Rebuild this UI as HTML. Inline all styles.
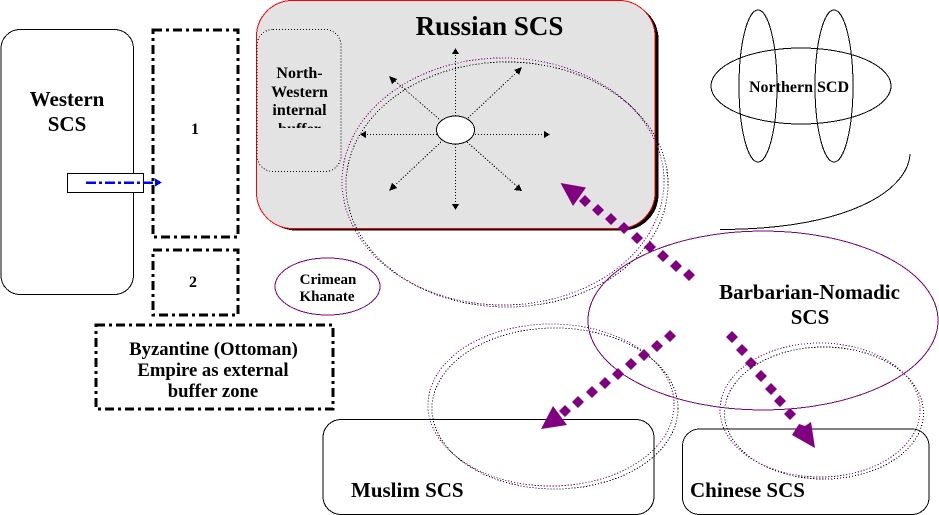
<!DOCTYPE html>
<html>
<head>
<meta charset="utf-8">
<style>
html,body{margin:0;padding:0;background:#fff;}
svg{display:block;position:absolute;left:0;top:0;}
text{font-family:"Liberation Serif",serif;font-weight:bold;fill:#000;}
.m{text-anchor:middle;}
</style>
</head>
<body>
<svg width="939" height="515" viewBox="0 0 939 515" xmlns="http://www.w3.org/2000/svg" shape-rendering="crispEdges">
<defs>
<clipPath id="c1"><rect x="257" y="29" width="84" height="99"/></clipPath>
<clipPath id="c2"><rect x="100" y="330" width="230" height="67"/></clipPath>
</defs>
<!-- Western -->
<rect x="1" y="29.500" width="132.500" height="265" rx="19" ry="19" fill="#fff" stroke="#000" stroke-width="1"/>
<text class="m" x="67" y="106" font-size="21">Western</text>
<text class="m" x="67" y="131" font-size="21">SCS</text>
<!-- Small rect -->
<rect x="67.500" y="173.500" width="76" height="19" fill="#fff" stroke="#000"/>
<!-- Dash boxes -->
<g fill="none" stroke="#000" stroke-width="3" stroke-dasharray="9 4 3 4">
<rect x="153" y="30" width="85" height="207"/>
<rect x="153" y="250" width="85" height="65"/>
<rect x="96" y="325" width="237" height="84"/>
</g>
<line x1="86" y1="182.500" x2="156" y2="182.500" stroke="#0000ff" stroke-width="2.500" stroke-dasharray="10 3 3 3"/>
<path d="M155 178.500L162 182.500L155 186.500Z" fill="#0000ff"/>
<text class="m" x="195" y="134" font-size="16">1</text>
<text class="m" x="193" y="287" font-size="16">2</text>
<g clip-path="url(#c2)">
<text class="m" x="213.500" y="355" font-size="18.700">Byzantine (Ottoman)</text>
<text class="m" x="213" y="376" font-size="18.700">Empire as external</text>
<text class="m" x="213" y="397" font-size="18.700">buffer zone</text>
</g>
<!-- Russian -->
<rect x="260" y="3" width="398.500" height="227.500" rx="36" ry="36" fill="#000"/>
<rect x="256.500" y="0.500" width="398.500" height="228" rx="36" ry="36" fill="#e3e3e3" stroke="#ff0000" stroke-width="1"/>
<rect x="257" y="29.500" width="84" height="142" rx="16" ry="16" fill="#e3e3e3" stroke="#000" stroke-width="1" stroke-dasharray="1 2"/>
<text class="m" x="489.500" y="35" font-size="27">Russian SCS</text>
<g clip-path="url(#c1)">
<text class="m" x="299.500" y="78" font-size="16">North-</text>
<text class="m" x="299.500" y="97" font-size="16">Western</text>
<text class="m" x="299.500" y="115" font-size="16">internal</text>
<text class="m" x="299.500" y="134" font-size="16">buffer</text>
</g>
<!-- Star arrows -->
<g stroke="#000" stroke-width="1" stroke-dasharray="1.200 1.800" fill="none">
<line x1="455.500" y1="116" x2="455.500" y2="52"/>
<line x1="455.500" y1="144" x2="455.500" y2="205"/>
<line x1="437" y1="134.500" x2="364" y2="134.500"/>
<line x1="475" y1="134.500" x2="546" y2="134.500"/>
<line x1="439" y1="119" x2="394" y2="80"/>
<line x1="468" y1="118" x2="518" y2="71"/>
<line x1="441" y1="142" x2="393" y2="187"/>
<line x1="467" y1="142" x2="519" y2="188"/>
</g>
<g fill="#000">
<path d="M455.500 48L459 54H452Z"/>
<path d="M455.500 210L459 204H452Z"/>
<path d="M360 134.500L366 131V138Z"/>
<path d="M550 134.500L544 131V138Z"/>
<path d="M389 76L397 79L392 84Z"/>
<path d="M522 67L519 75L514 70Z"/>
<path d="M389 191L392 183L397 188Z"/>
<path d="M522 191L514 190L519 184Z"/>
</g>
<ellipse cx="455.500" cy="130" rx="19" ry="14" fill="#fff" stroke="#000"/>
<!-- Double ellipses -->
<g fill="none" stroke-width="1" stroke-dasharray="1.200 1.800">
<ellipse cx="507" cy="184.500" rx="161" ry="122.500" stroke="#000"/>
<ellipse cx="503" cy="181.500" rx="161" ry="123.500" stroke="#800080"/>
<ellipse cx="555" cy="408.500" rx="123" ry="80.500" stroke="#000"/>
<ellipse cx="551" cy="405" rx="123" ry="81" stroke="#800080"/>
<ellipse cx="824" cy="413" rx="99.500" ry="66" stroke="#000"/>
<ellipse cx="820" cy="410" rx="100" ry="67" stroke="#800080"/>
</g>
<!-- Crimean -->
<ellipse cx="327.500" cy="286.500" rx="52.500" ry="28.500" fill="none" stroke="#800080"/>
<text class="m" x="328" y="284" font-size="15">Crimean</text>
<text class="m" x="327" y="301" font-size="15">Khanate</text>
<!-- Northern -->
<g fill="none" stroke="#000">
<ellipse cx="801" cy="86" rx="90" ry="38"/>
<ellipse cx="758" cy="86" rx="19" ry="76"/>
<ellipse cx="834" cy="86" rx="19" ry="76"/>
<path d="M910 154C908 190 850 229 720 229.500"/>
</g>
<text class="m" x="799" y="92" font-size="16">Northern SCD</text>
<!-- Barbarian -->
<ellipse cx="763" cy="320.500" rx="175" ry="89.500" fill="none" stroke="#800080"/>
<text class="m" x="809.500" y="299" font-size="21">Barbarian-Nomadic</text>
<text class="m" x="810" y="324" font-size="21">SCS</text>
<!-- Bottom boxes -->
<rect x="323" y="419.500" width="331" height="95" rx="18" ry="18" fill="none" stroke="#000"/>
<rect x="682.500" y="429" width="246.500" height="85.500" rx="17" ry="17" fill="none" stroke="#000"/>
<text x="351" y="497" font-size="21">Muslim SCS</text>
<text x="690" y="497" font-size="21">Chinese SCS</text>
<!-- Purple dotted arrows -->
<g fill="#800080" shape-rendering="auto">
<path d="M560.500 183L586 187.500L573 206Z"/>
<path d="M541 429L553 406L567 425Z"/>
<path d="M815 448L792 435L799 424L805 426L811 422Z"/>
<path d="M585 195l6 6-6 6-6-6zM598 204l6 6-6 6-6-6zM611 213l6 6-6 6-6-6zM624 222l6 6-6 6-6-6zM637 232l6 6-6 6-6-6zM650 241l6 6-6 6-6-6zM663 250l6 6-6 6-6-6zM676 260l6 6-6 6-6-6zM689 269l6 6-6 6-6-6z"/>
<path d="M670 330l6 6-6 6-6-6zM657 340l6 6-6 6-6-6zM644 349l6 6-6 6-6-6zM631 358l6 6-6 6-6-6zM618 368l6 6-6 6-6-6zM605 377l6 6-6 6-6-6zM592 386l6 6-6 6-6-6zM578 396l6 6-6 6-6-6zM565 405l6 6-6 6-6-6z"/>
<path d="M732 331l6 6-6 6-6-6zM742 344l6 6-6 6-6-6zM751 357l6 6-6 6-6-6zM761 370l6 6-6 6-6-6zM771 383l6 6-6 6-6-6zM780 395l6 6-6 6-6-6zM790 408l6 6-6 6-6-6z"/>
</g>
</svg>
</body>
</html>
